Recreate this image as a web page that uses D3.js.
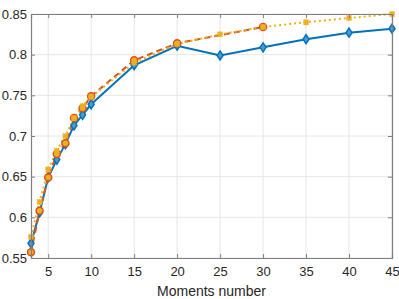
<!DOCTYPE html>
<html>
<head>
<meta charset="utf-8">
<script src="https://cdn.jsdelivr.net/npm/d3@7"></script>
<style>
  body { margin: 0; background: #fff; }
  svg { font-family: "Liberation Sans", Arial, sans-serif; }
</style>
</head>
<body>
<svg id="chart" width="399" height="299"></svg>
<script>
// Data
var xTicks = [5, 10, 15, 20, 25, 30, 35, 40, 45];
var yTicks = [0.55, 0.6, 0.65, 0.7, 0.75, 0.8, 0.85];

var blueX = [3, 4, 5, 6, 7, 8, 9, 10, 15, 20, 25, 30, 35, 40, 45];
var blueY = [0.568, 0.606, 0.649, 0.671, 0.690, 0.713, 0.726, 0.739, 0.787, 0.811, 0.799, 0.809, 0.819, 0.827, 0.832];

var redX = [3, 4, 5, 6, 7, 8, 9, 10, 15, 20, 30];
var redY = [0.557, 0.608, 0.649, 0.678, 0.691, 0.722, 0.734, 0.749, 0.793, 0.814, 0.834];

var yellowX = [3, 4, 5, 6, 7, 8, 9, 10, 15, 20, 25, 30, 35, 40, 45];
var yellowY = [0.576, 0.619, 0.659, 0.682, 0.700, 0.722, 0.737, 0.748, 0.790, 0.813, 0.825, 0.834, 0.840, 0.845, 0.850];

var margin = { left: 31, right: 7, top: 14, bottom: 41 };
var width = 399, height = 299;

var svg = d3.select("#chart");

var x = d3.scaleLinear().domain([3, 45]).range([margin.left, width - margin.right]);
var y = d3.scaleLinear().domain([0.55, 0.85]).range([height - margin.bottom, margin.top]);

var axisColor = "#7f7f7f";

// grid
svg.append("g").selectAll("line.gx")
    .data(xTicks).enter().append("line")
    .attr("x1", function(d) { return x(d); })
    .attr("x2", function(d) { return x(d); })
    .attr("y1", y(0.85)).attr("y2", y(0.55))
    .attr("stroke", "#e6e6e6").attr("stroke-width", 1);
svg.append("g").selectAll("line.gy")
    .data(yTicks).enter().append("line")
    .attr("x1", x(3)).attr("x2", x(45))
    .attr("y1", function(d) { return y(d); })
    .attr("y2", function(d) { return y(d); })
    .attr("stroke", "#e6e6e6").attr("stroke-width", 1);

// series
function series(xs, ys) {
    return xs.map(function(v, i) { return { x: v, y: ys[i] }; });
}
var line = d3.line()
    .x(function(d) { return x(d.x); })
    .y(function(d) { return y(d.y); });

var blue = series(blueX, blueY);
var red = series(redX, redY);
var yellow = series(yellowX, yellowY);

svg.append("path").datum(blue).attr("d", line)
    .attr("fill", "none").attr("stroke", "#0072BD").attr("stroke-width", 2);
svg.append("path").datum(red).attr("d", line)
    .attr("fill", "none").attr("stroke", "#D95319").attr("stroke-width", 2)
    .attr("stroke-dasharray", "6,4");
svg.append("path").datum(yellow).attr("d", line)
    .attr("fill", "none").attr("stroke", "#EDB120").attr("stroke-width", 2)
    .attr("stroke-dasharray", "2,3");

// markers
svg.append("g").selectAll("path")
    .data(blue).enter().append("path")
    .attr("transform", function(d) { return "translate(" + x(d.x) + "," + y(d.y) + ")"; })
    .attr("d", "M0,-4.5L3,0L0,4.5L-3,0Z")
    .attr("fill", "#4d9bd6").attr("stroke", "#0072BD").attr("stroke-width", 1.5);

svg.append("g").selectAll("circle")
    .data(red).enter().append("circle")
    .attr("cx", function(d) { return x(d.x); })
    .attr("cy", function(d) { return y(d.y); })
    .attr("r", 3.5)
    .attr("fill", "#EDB120").attr("stroke", "#D95319").attr("stroke-width", 1.5);

svg.append("g").selectAll("path.ym")
    .data(yellow).enter().append("path")
    .attr("transform", function(d) { return "translate(" + x(d.x) + "," + y(d.y) + ")"; })
    .attr("d", "M-2.5,-2.5L2.5,2.5M-2.5,2.5L2.5,-2.5M0,-3L0,3M-3,0L3,0")
    .attr("fill", "none").attr("stroke", "#EDB120").attr("stroke-width", 1.5);

// axes
var xAxis = svg.append("g")
    .attr("transform", "translate(0," + y(0.55) + ")")
    .call(d3.axisBottom(x).tickValues(xTicks).tickSize(-4).tickPadding(9).tickFormat(d3.format("d")));
var xTop = svg.append("g")
    .attr("transform", "translate(0," + y(0.85) + ")")
    .call(d3.axisTop(x).tickValues(xTicks).tickSize(-4).tickFormat(""));
var yAxis = svg.append("g")
    .attr("transform", "translate(" + x(3) + ",0)")
    .call(d3.axisLeft(y).tickValues(yTicks).tickSize(-4).tickPadding(4)
        .tickFormat(function(d) { return d3.format("")(+d.toFixed(2)); }));
var yRight = svg.append("g")
    .attr("transform", "translate(" + x(45) + ",0)")
    .call(d3.axisRight(y).tickValues(yTicks).tickSize(-4).tickFormat(""));

[xAxis, xTop, yAxis, yRight].forEach(function(g) {
    g.select(".domain").attr("stroke", axisColor).attr("stroke-width", 1.2);
    g.selectAll(".tick line").attr("stroke", axisColor);
    g.selectAll("text").attr("fill", "#262626").attr("font-size", "13px")
        .attr("font-family", "Liberation Sans, Arial, sans-serif");
});

svg.append("text")
    .attr("x", (x(3) + x(45)) / 2)
    .attr("y", 296)
    .attr("text-anchor", "middle")
    .attr("fill", "#262626")
    .attr("font-size", "14px")
    .text("Moments number");
</script>
</body>
</html>
